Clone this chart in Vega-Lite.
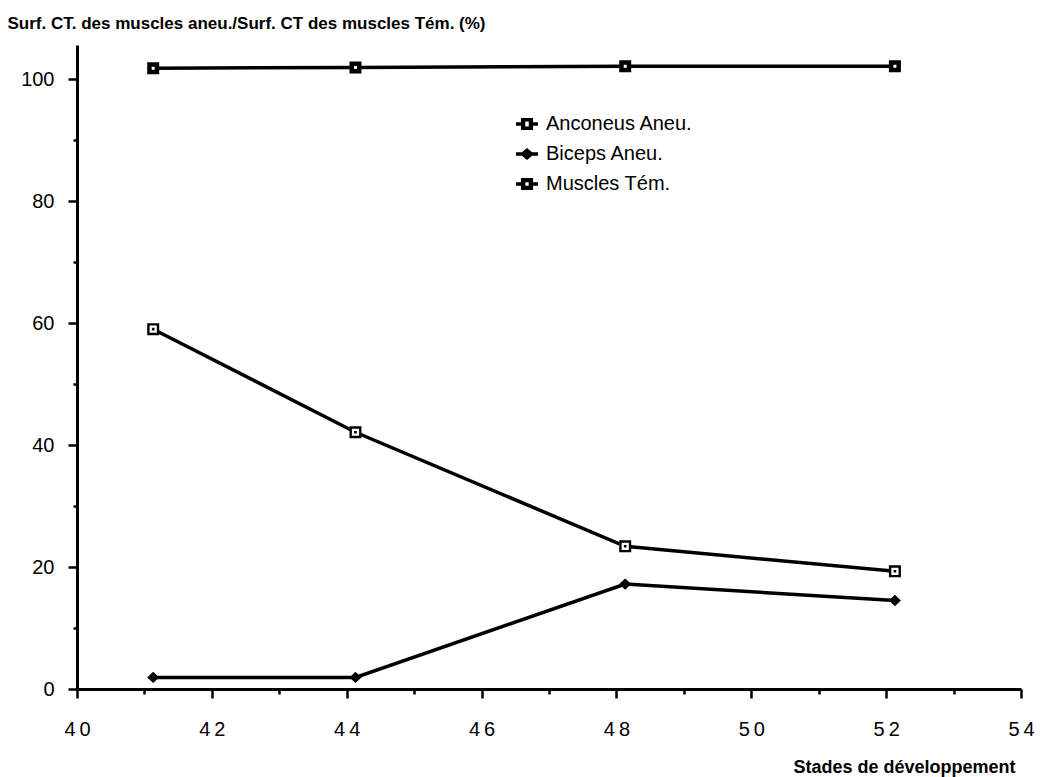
{
  "$schema": "https://vega.github.io/schema/vega-lite/v6.json",
  "autosize": {"type": "none"},
  "padding": {"left": 77, "top": 45, "right": 21, "bottom": 88},
  "width": 944,
  "height": 644,
  "background": "white",
  "config": {
    "view": {"stroke": null},
    "font": "Liberation Sans",
    "axis": {"grid": false, "domainColor": "black", "domainWidth": 3, "tickColor": "black", "tickWidth": 2.5, "labelColor": "black", "titleColor": "black", "labelFont": "Liberation Sans", "titleFont": "Liberation Sans"}
  },
  "data": {
    "values": [
      {"stade": 41.13, "pct": 101.8, "serie": "Muscles Tém."},
      {"stade": 44.13, "pct": 101.9, "serie": "Muscles Tém."},
      {"stade": 48.13, "pct": 102.1, "serie": "Muscles Tém."},
      {"stade": 52.13, "pct": 102.1, "serie": "Muscles Tém."},
      {"stade": 41.13, "pct": 59.0, "serie": "Anconeus Aneu."},
      {"stade": 44.13, "pct": 42.1, "serie": "Anconeus Aneu."},
      {"stade": 48.13, "pct": 23.4, "serie": "Anconeus Aneu."},
      {"stade": 52.13, "pct": 19.3, "serie": "Anconeus Aneu."},
      {"stade": 41.13, "pct": 1.9, "serie": "Biceps Aneu."},
      {"stade": 44.13, "pct": 1.9, "serie": "Biceps Aneu."},
      {"stade": 48.13, "pct": 17.2, "serie": "Biceps Aneu."},
      {"stade": 52.13, "pct": 14.5, "serie": "Biceps Aneu."}
    ]
  },
  "encoding": {
    "x": {
      "field": "stade", "type": "quantitative",
      "scale": {"domain": [40, 54], "nice": false, "zero": false},
      "axis": {
        "orient": "bottom",
        "values": [40, 41, 42, 43, 44, 45, 46, 47, 48, 49, 50, 51, 52, 53, 54],
        "labelExpr": "datum.value % 2 === 0 ? substring(datum.label, 0, 1) + '\u2009' + substring(datum.label, 1) : ''",
        "tickSize": {"condition": {"test": "datum.value % 2 === 0", "value": 9}, "value": 5},
        "labelFontSize": 20,
        "labelPadding": 21,
        "labelFlush": false,
        "title": "Stades de développement",
        "titleFontSize": 18,
        "titleFontWeight": "bold",
        "titleAnchor": null,
        "titleAlign": "right",
        "titleBaseline": "alphabetic",
        "titleX": 938,
        "titleY": 83
      }
    },
    "y": {
      "field": "pct", "type": "quantitative",
      "scale": {"domain": [0, 105.6], "nice": false},
      "axis": {
        "orient": "left",
        "values": [0, 10, 20, 30, 40, 50, 60, 70, 80, 90, 100],
        "labelExpr": "datum.value % 20 === 0 ? datum.label : ''",
        "tickSize": {"condition": {"test": "datum.value % 20 === 0", "value": 9}, "value": 4},
        "labelFontSize": 20,
        "labelPadding": 14,
        "title": "Surf. CT. des muscles aneu./Surf. CT des muscles Tém. (%)",
        "titleFontSize": 17,
        "titleFontWeight": "bold",
        "titleAngle": 0,
        "titleAnchor": null,
        "titleAlign": "left",
        "titleBaseline": "alphabetic",
        "titleX": -70,
        "titleY": -17
      }
    }
  },
  "layer": [
    {
      "mark": {"type": "line", "color": "black", "strokeWidth": 3.5},
      "encoding": {"detail": {"field": "serie"}}
    },
    {
      "transform": [{"filter": "datum.serie !== 'Biceps Aneu.'"}],
      "mark": {"type": "point", "shape": "square", "filled": true, "color": "white", "opacity": 1, "size": 130}
    },
    {
      "mark": {"type": "point", "filled": true, "color": "black", "opacity": 1, "size": 144, "strokeWidth": 0},
      "encoding": {
        "shape": {
          "field": "serie", "type": "nominal",
          "scale": {
            "domain": ["Anconeus Aneu.", "Biceps Aneu.", "Muscles Tém."],
            "range": [
              "M-1,-1H1V1H-1Z M-0.6,-0.6V0.6H0.6V-0.6Z M-0.22,-0.22H0.22V0.22H-0.22Z",
              "M0,-0.95L1,0L0,0.95L-1,0Z",
              "M-1,-1H1V1H-1Z M-0.25,-0.25V0.25H0.25V-0.25Z"
            ]
          },
          "legend": null
        }
      }
    },
    {
      "mark": {"type": "point", "filled": true, "color": "black", "opacity": 0, "size": 484},
      "encoding": {
        "shape": {
          "field": "serie", "type": "nominal",
          "scale": {
            "domain": ["Anconeus Aneu.", "Biceps Aneu.", "Muscles Tém."],
            "range": [
              "M-1,-0.16H-0.55V0.16H-1Z M0.55,-0.16H1V0.16H0.55Z M-0.55,-0.55H0.55V0.55H-0.55Z M-0.16,-0.22V0.22H0.16V-0.22Z",
              "M-1,-0.16H1V0.16H-1Z M0,-0.55L0.65,0L0,0.55L-0.65,0Z",
              "M-1,-0.16H-0.55V0.16H-1Z M0.55,-0.16H1V0.16H0.55Z M-0.55,-0.55H0.55V0.55H-0.55Z M-0.15,-0.15V0.15H0.15V-0.15Z"
            ]
          },
          "legend": {
            "orient": "none",
            "direction": "vertical",
            "legendX": 439,
            "legendY": 68,
            "title": null,
            "padding": 0,
            "symbolSize": 484,
            "symbolOpacity": 1,
            "symbolFillColor": "black",
            "symbolStrokeWidth": 0,
            "labelFontSize": 20,
            "labelFont": "Liberation Sans",
            "labelColor": "black",
            "labelOffset": 8,
            "rowPadding": 9,
            "labelExpr": "datum.label === 'Anconeus Aneu.' ? '\u00a0\u00a0\u00a0\u00a0' + datum.label : datum.label",
            "encode": {"symbols": {"update": {"opacity": {"value": 1}, "fill": {"value": "black"}}}}
          }
        }
      }
    }
  ],
  "resolve": {"scale": {"shape": "independent"}}
}
